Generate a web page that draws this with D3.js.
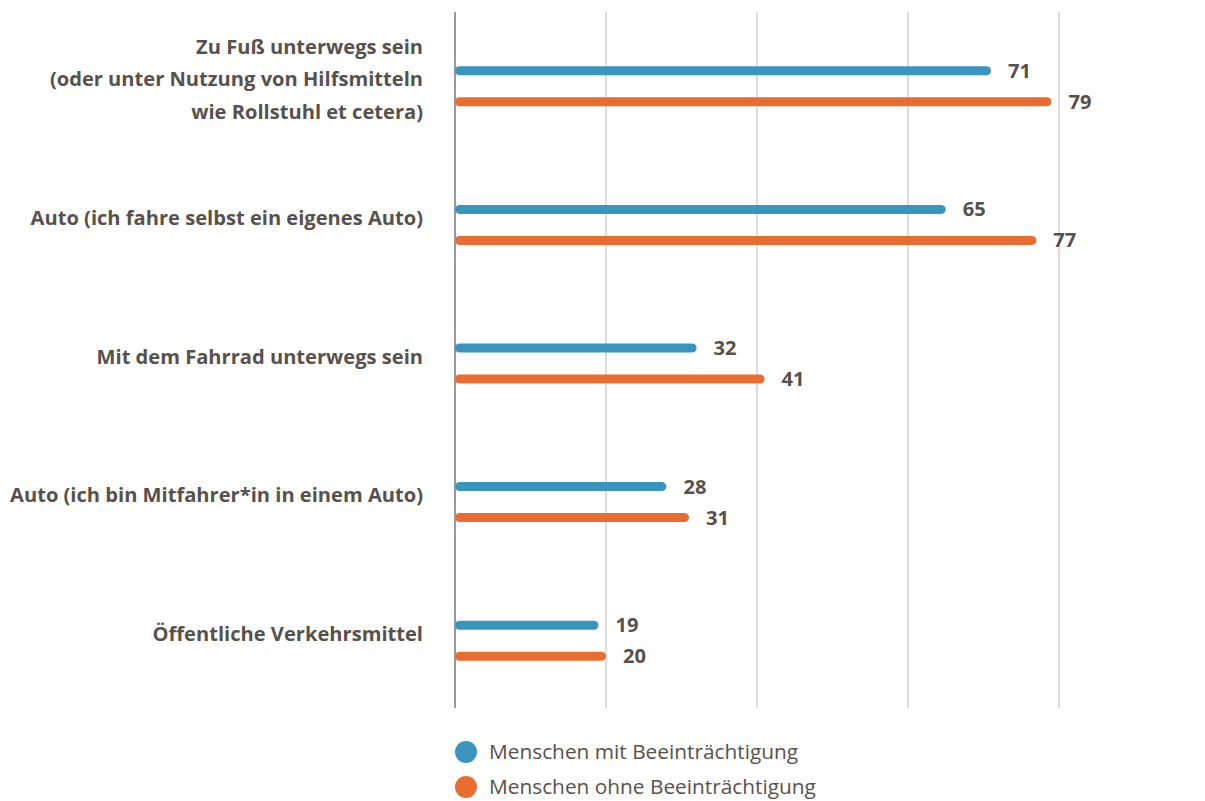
<!DOCTYPE html>
<html><head><meta charset="utf-8">
<script src="https://cdn.jsdelivr.net/npm/d3@7"></script>
<style>body{margin:0;background:#fff}</style>
</head><body><svg id="c" width="1205" height="801"></svg>
<script>
const categories = [
  ["Zu Fuß unterwegs sein", "(oder unter Nutzung von Hilfsmitteln", "wie Rollstuhl et cetera)"],
  ["Auto (ich fahre selbst ein eigenes Auto)"],
  ["Mit dem Fahrrad unterwegs sein"],
  ["Auto (ich bin Mitfahrer*in in einem Auto)"],
  ["Öffentliche Verkehrsmittel"]
];
const seriesNames = ["Menschen mit Beeinträchtigung", "Menschen ohne Beeinträchtigung"];
const withImpairment = [71, 65, 32, 28, 19];
const withoutImpairment = [79, 77, 41, 31, 20];
const xTicks = [0, 20, 40, 60, 80];
const colors = ["#3a95be", "#e96d31"];

const svg = d3.select("#c");
const textColor = "#57514d";
const font = "'Open Sans', Lato, sans-serif";

// fit a font size so a text spans a given width
function fitSize(str, weight, target) {
  const t = svg.append("text").attr("font-family", font).attr("font-weight", weight)
    .attr("font-size", 20).text(str);
  const w = t.node().getComputedTextLength();
  t.remove();
  return 20 * target / w;
}
const catSize = fitSize("Auto (ich bin Mitfahrer*in in einem Auto)", 700, 413);
const legSize = fitSize("Menschen ohne Beeinträchtigung", 400, 327);
const valSize = fitSize("79", 700, 23);

const x = d3.scaleLinear().domain([0, 80]).range([455, 1059]);
const y = d3.scaleBand().domain(d3.range(categories.length)).range([17, 710]);

// grid
svg.append("g").selectAll("line").data(xTicks.slice(1)).join("line")
  .attr("x1", d => x(d)).attr("x2", d => x(d)).attr("y1", 12).attr("y2", 708)
  .attr("stroke", "#c4c4c4").attr("stroke-width", 1.2);
svg.append("line").attr("x1", x(0)).attr("x2", x(0)).attr("y1", 12).attr("y2", 708)
  .attr("stroke", "#555").attr("stroke-width", 1.2);

const series = [withImpairment, withoutImpairment];
const g = svg.append("g");
series.forEach((vals, si) => {
  const cy = i => y(i) + y.bandwidth() / 2 + (si === 0 ? -15.5 : 15.5);
  g.append("g").selectAll("line").data(vals).join("line")
    .attr("x1", x(0) + 4.5).attr("x2", d => x(d) - 4.5)
    .attr("y1", (d, i) => cy(i)).attr("y2", (d, i) => cy(i))
    .attr("stroke", colors[si]).attr("stroke-width", 9).attr("stroke-linecap", "round");
  g.append("g").selectAll("text").data(vals).join("text")
    .attr("x", d => x(d) + 17).attr("y", (d, i) => cy(i) + 7)
    .attr("font-family", font).attr("font-weight", 700).attr("font-size", valSize)
    .attr("fill", textColor).text(d => d);
});

// category labels
categories.forEach((lines, i) => {
  const c = y(i) + y.bandwidth() / 2 - 7;
  const lh = 32.5;
  const t = svg.append("text").attr("text-anchor", "end")
    .attr("font-family", font).attr("font-weight", 700).attr("font-size", catSize)
    .attr("fill", textColor);
  lines.forEach((ln, j) => {
    t.append("tspan").attr("x", 423)
      .attr("y", c + (j - (lines.length - 1) / 2) * lh + 7).text(ln);
  });
});

// legend
seriesNames.forEach((n, i) => {
  const ly = 752 + i * 35;
  svg.append("circle").attr("cx", 466).attr("cy", ly).attr("r", 11).attr("fill", colors[i]);
  svg.append("text").attr("x", 489).attr("y", ly + 7)
    .attr("font-family", font).attr("font-size", legSize).attr("fill", textColor).text(n);
});
</script></body></html>
